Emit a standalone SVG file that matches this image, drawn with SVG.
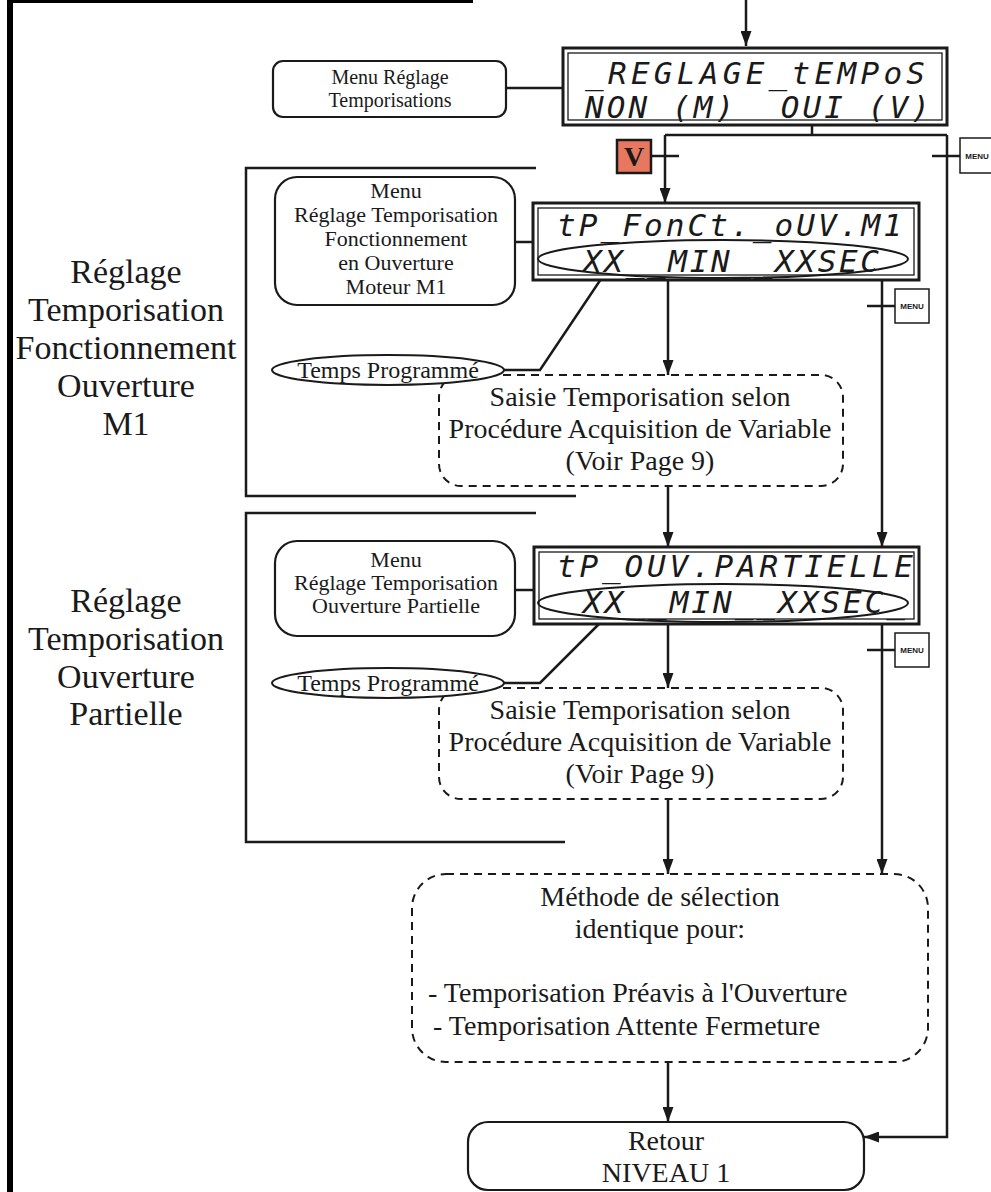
<svg xmlns="http://www.w3.org/2000/svg" width="991" height="1192" viewBox="0 0 991 1192">
<defs>
<marker id="ah" viewBox="0 0 15 11" refX="15" refY="5.5" markerWidth="15" markerHeight="11" markerUnits="userSpaceOnUse" orient="auto">
<path d="M0,0 L15,5.5 L0,11 Z" fill="#1a1a1a"/>
</marker>
<style>
.ln{fill:none;stroke:#1a1a1a;stroke-width:2.5}
.arr{fill:none;stroke:#1a1a1a;stroke-width:2.5;marker-end:url(#ah)}
.box{fill:#fff;stroke:#1a1a1a;stroke-width:2.2}
.dash{fill:#fff;stroke:#1a1a1a;stroke-width:2;stroke-dasharray:8 6}
.lcdo{fill:#fff;stroke:#1a1a1a;stroke-width:3}
.lcdi{fill:none;stroke:#1a1a1a;stroke-width:1.3}
.ell{fill:none;stroke:#1a1a1a;stroke-width:2}
.tell{fill:#fff;stroke:#1a1a1a;stroke-width:2}
.t{font-family:"Liberation Serif","Times New Roman",serif;fill:#1a1a1a;text-anchor:middle}
.s20{font-size:20px}.s22{font-size:22px}.s24{font-size:24px}.s28{font-size:28px}.s34{font-size:34px}
.lcd{font-family:"DejaVu Sans Mono","Liberation Mono",monospace;font-size:31px;font-style:oblique;fill:#1a1a1a}
.mt{font-family:"Liberation Sans",Arial,sans-serif;font-weight:bold;font-size:8px;fill:#1a1a1a;text-anchor:middle}
.mb{fill:#fff;stroke:#1a1a1a;stroke-width:1.5}
</style>
</defs>
<rect x="0" y="0" width="991" height="1192" fill="#fff"/>
<g id="frame">
<rect x="7" y="0" width="6" height="1192" fill="#000"/>
<line x1="9" y1="1.5" x2="473" y2="1.5" stroke="#000" stroke-width="3"/>
</g>
<g id="connectors">
<line class="arr" x1="746" y1="0" x2="746" y2="46"/>
<line class="ln" x1="506" y1="88" x2="563" y2="88"/>
<polyline class="ln" points="812,125 812,135"/>
<polyline class="ln" points="665,135 947,135"/>
<line class="arr" x1="665" y1="135" x2="665" y2="203"/>
<line class="ln" x1="651" y1="156" x2="679" y2="156"/>
<line class="ln" x1="932" y1="156" x2="960" y2="156"/>
<polyline class="arr" points="947,135 947,1137 864,1137"/>
<polyline class="ln" points="536,168 246,168 246,496 576,496"/>
<line class="ln" x1="515" y1="242" x2="533" y2="242"/>
<line class="arr" x1="668" y1="280" x2="668" y2="375"/>
<line class="arr" x1="882" y1="280" x2="882" y2="547"/>
<line class="ln" x1="867" y1="306" x2="895" y2="306"/>
<polyline class="ln" points="504,370 540,370 601,279"/>
<line class="arr" x1="668" y1="486" x2="668" y2="547"/>
<polyline class="ln" points="536,513 246,513 246,842 565,842"/>
<line class="ln" x1="515" y1="590" x2="534" y2="590"/>
<line class="arr" x1="668" y1="624" x2="668" y2="688"/>
<line class="arr" x1="882" y1="624" x2="882" y2="874"/>
<line class="ln" x1="867" y1="650" x2="895" y2="650"/>
<polyline class="ln" points="504,683 540,683 601,622"/>
<line class="arr" x1="668" y1="799" x2="668" y2="874"/>
<line class="arr" x1="668" y1="1062" x2="668" y2="1122"/>
</g>
<g id="menu1">
<rect class="box" x="273" y="61" width="233" height="56" rx="10"/>
<text class="t s20" x="390" y="84">Menu Réglage</text>
<text class="t s20" x="390" y="107">Temporisations</text>
</g>
<g id="lcd1">
<rect class="lcdo" x="563" y="48" width="384" height="77"/>
<rect class="lcdi" x="568" y="53" width="374" height="67"/>
<text class="lcd" x="585" y="84" textLength="340" lengthAdjust="spacing">_REGLAGE_tEMPoS</text>
<text class="lcd" x="585" y="118" textLength="345" lengthAdjust="spacing">NON_(M)__OUI_(V)</text>
</g>
<g id="keyV">
<rect x="617" y="140" width="34" height="33" fill="#E8775F" stroke="#1a1a1a" stroke-width="2.5"/>
<text x="634" y="166" font-family="Liberation Serif,serif" font-weight="bold" font-size="28" text-anchor="middle" fill="#1a1a1a">V</text>
</g>
<g id="menuKey1">
<rect class="mb" x="960" y="138" width="34" height="35"/>
<text class="mt" x="977" y="159">MENU</text>
</g>
<g id="label1">
<text class="t s34" x="126" y="283">Réglage</text>
<text class="t s34" x="126" y="321">Temporisation</text>
<text class="t s34" x="126" y="359">Fonctionnement</text>
<text class="t s34" x="126" y="397">Ouverture</text>
<text class="t s34" x="126" y="435">M1</text>
</g>
<g id="menu2">
<rect class="box" x="275" y="177" width="240" height="128" rx="22"/>
<text class="t s22" x="396" y="198">Menu</text>
<text class="t s22" x="396" y="222">Réglage Temporisation</text>
<text class="t s22" x="396" y="246">Fonctionnement</text>
<text class="t s22" x="396" y="270">en Ouverture</text>
<text class="t s22" x="396" y="294">Moteur M1</text>
</g>
<g id="lcd2">
<rect class="lcdo" x="533" y="203" width="386" height="77"/>
<rect class="lcdi" x="538" y="208" width="376" height="67"/>
<text class="lcd" x="557" y="236" textLength="345" lengthAdjust="spacing">tP_FonCt._oUV.M1</text>
<text class="lcd" x="583" y="272" textLength="296" lengthAdjust="spacing">XX__MIN__XXSEC</text>
<ellipse class="ell" cx="723" cy="259" rx="185" ry="19"/>
</g>
<g id="menuKey2">
<rect class="mb" x="895" y="289" width="34" height="34"/>
<text class="mt" x="912" y="309">MENU</text>
</g>
<g id="saisie1">
<rect class="dash" x="439" y="375" width="404" height="111" rx="22"/>
<text class="t s28" x="640" y="406">Saisie Temporisation selon</text>
<text class="t s28" x="640" y="438">Procédure Acquisition de Variable</text>
<text class="t s28" x="640" y="470">(Voir Page 9)</text>
</g>
<g id="temps1">
<ellipse class="tell" cx="388" cy="370" rx="116" ry="15"/>
<text class="t s24" x="388" y="378">Temps Programmé</text>
</g>
<g id="label2">
<text class="t s34" x="126" y="612">Réglage</text>
<text class="t s34" x="126" y="650">Temporisation</text>
<text class="t s34" x="126" y="688">Ouverture</text>
<text class="t s34" x="126" y="725">Partielle</text>
</g>
<g id="menu3">
<rect class="box" x="275" y="541" width="240" height="95" rx="22"/>
<text class="t s22" x="396" y="567">Menu</text>
<text class="t s22" x="396" y="590">Réglage Temporisation</text>
<text class="t s22" x="396" y="613">Ouverture Partielle</text>
</g>
<g id="lcd3">
<rect class="lcdo" x="534" y="547" width="385" height="77"/>
<rect class="lcdi" x="539" y="552" width="375" height="67"/>
<text class="lcd" x="557" y="577" textLength="356" lengthAdjust="spacing">tP_OUV.PARTIELLE</text>
<text class="lcd" x="583" y="613" textLength="322" lengthAdjust="spacing">XX__MIN__XXSEC_</text>
<ellipse class="ell" cx="723" cy="603" rx="185" ry="19"/>
</g>
<g id="menuKey3">
<rect class="mb" x="895" y="633" width="34" height="34"/>
<text class="mt" x="912" y="653">MENU</text>
</g>
<g id="saisie2">
<rect class="dash" x="439" y="688" width="404" height="111" rx="22"/>
<text class="t s28" x="640" y="719">Saisie Temporisation selon</text>
<text class="t s28" x="640" y="751">Procédure Acquisition de Variable</text>
<text class="t s28" x="640" y="783">(Voir Page 9)</text>
</g>
<g id="temps2">
<ellipse class="tell" cx="388" cy="683" rx="116" ry="15"/>
<text class="t s24" x="388" y="691">Temps Programmé</text>
</g>
<g id="methode">
<rect class="dash" x="412" y="874" width="516" height="188" rx="34"/>
<text class="t s28" x="660" y="906">Méthode de sélection</text>
<text class="t s28" x="660" y="938">identique pour:</text>
<text class="t s28" x="428" y="1002" style="text-anchor:start">- Temporisation Préavis à l'Ouverture</text>
<text class="t s28" x="433" y="1035" style="text-anchor:start">- Temporisation Attente Fermeture</text>
</g>
<g id="retour">
<rect class="box" x="468" y="1122" width="396" height="68" rx="20"/>
<text class="t s28" x="666" y="1150">Retour</text>
<text class="t s28" x="666" y="1182">NIVEAU 1</text>
</g>
</svg>
